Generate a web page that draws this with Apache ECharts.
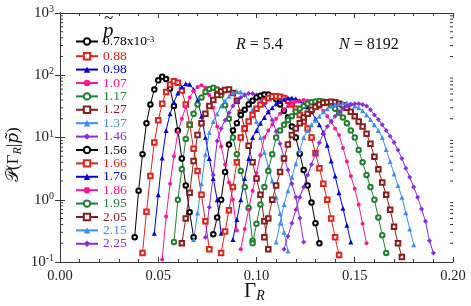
<!DOCTYPE html>
<html><head><meta charset="utf-8">
<script src="https://cdn.jsdelivr.net/npm/echarts@6/dist/echarts.min.js"></script>
<style>html,body{margin:0;padding:0;background:#fff}#c{width:471px;height:306px}</style>
</head><body><div id="c"></div>
<script>
// ---------- data ----------
const BIN = 0.002;
const P_LABELS = ['0.78','0.88','0.98','1.07','1.17','1.27','1.37','1.46','1.56','1.66','1.76','1.86','1.95','2.05','2.15','2.25'];
const X_TICKS = [0, 0.05, 0.10, 0.15, 0.20];
const STARTS = [0.038,0.042,0.048,0.052,0.058,0.062,0.068,0.074,0.078,0.082,0.088,0.092,0.098,0.104,0.110,0.114];
const Y_078 = [0.25,1.4,5.4,17,34,59,83,95,87,61,32,13,4.6,1.7,0.63,0.25];
const Y_088 = [0.14,0.64,2.4,8.3,19,35,54,71,80,76,57,34,16,6.6,2.9,1.2,0.45,0.16];
const Y_098 = [0.29,1.2,4.7,13,24,37,52,65,73,72,59,40,22,10,4.6,2.2,1.0,0.29];
const Y_107 = [0.11,0.54,1.8,5.0,12,20,31,44,56,65,69,63,48,30,15,7.2,3.7,1.9,1.0,0.32];
const Y_117 = [0.21,1.0,3.1,9.5,16,24,34,44,54,60,63,59,48,33,20,10,5.4,2.9,1.6,0.74,0.22];
const Y_127 = [0.2,0.5,1.3,4.2,11,17,24,32,40,48,55,58,59,52,39,25,14,7.4,4.0,2.2,1.2,0.45,0.16];
const Y_137 = [0.23,0.61,1.8,5.4,12,18,24,32,39,46,52,55,54,49,39,28,18,10,5.8,3.4,2.0,1.1,0.6,0.3,0.15];
const Y_146 = [0.25,0.76,2.5,8.8,14,19,25,32,38,44,48,51,51,48,42,34,26,19,12.5,7.9,4.8,3.0,1.8,1.1,0.51,0.21];
const Y_156 = [0.28,0.52,1.0,2.8,7.7,13,17,23,28,34,39,44,47,49,49,46,41,34,27,21,15,10,5.5,3.0,1.7,0.9,0.42,0.2];
const Y_166 = [0.14,0.31,0.68,1.6,4.0,10,14,18,23,29,34,39,43,45,46,45,43,39,34,29,23,18,14,10,5.6,3.2,1.8,1.0,0.5,0.25,0.13];
const Y_176 = [0.23,0.48,1.0,2.2,4.6,10,13,17,21,26,30,35,38,41,43,43,42,39,35,31,26,20,16,12,7.5,4.2,2.4,1.3,0.73,0.39,0.21];
const Y_186 = [0.16,0.34,0.7,1.4,2.7,5.2,10,13,16,20,24,28,32,35,38,39,40,39,37,35,31,27,22,18,14,11,6.8,4.1,2.4,1.5,0.84,0.41,0.2];
const Y_195 = [0.2,0.41,0.84,1.6,2.9,5.4,10,13,16,19,22,26,29,32,35,37,38,38.5,38,36,33,29,25,21,17,13,10,6.3,4.0,2.5,1.6,1.0,0.52,0.27,0.14];
const Y_205 = [0.25,0.5,1.0,1.7,2.8,4.6,7.7,11,14,17,21,24,28,31,34,36,37,37.5,37,35,33,30,26,22,18,15,11.5,7.9,4.9,3.1,1.9,1.2,0.69,0.37,0.2,0.12];
const Y_215 = [0.21,0.42,0.84,1.4,2.3,3.8,6.2,10,13,16,19,22,26,29,32,34,35,36,36,35,32,30,27,23,19.5,16,13,10,6.4,4.1,2.6,1.7,1.1,0.62,0.34,0.19];
const Y_225 = [0.16,0.26,0.42,0.69,1.1,1.6,2.5,3.7,5.5,8.2,11.5,15,18,22,26,29,32,34,35,35,34,32,28,23,19.5,16,13,10.5,8.3,6.3,4.6,3.2,2.3,1.6,1.1,0.71,0.45,0.22,0.14];
const VALUES = [Y_078,Y_088,Y_098,Y_107,Y_117,Y_127,Y_137,Y_146,Y_156,Y_166,Y_176,Y_186,Y_195,Y_205,Y_215,Y_225];

// ---------- styles ----------
const COLORS = ['#000000','#e3201c','#0000dd','#ff1493','#1f7f2e','#8b1c1c','#3a8cff','#8a2be2'];
const SYMS = ['emptyCircle','emptyRect','triangle','circle','emptyCircle','emptyRect','triangle','diamond'];
const SIZES = [4.5,4.5,5,4,4.5,4.5,5,5];
const SERIF = 'Liberation Serif';

const series = VALUES.map((vals, i) => ({
  type: 'line',
  name: P_LABELS[i],
  data: vals.map((v, k) => [+(STARTS[i] + k * BIN).toFixed(4), v]),
  symbol: SYMS[i % 8],
  symbolSize: SIZES[i % 8],
  showAllSymbol: true,
  color: COLORS[i % 8],
  lineStyle: { width: 1, color: COLORS[i % 8] },
  itemStyle: { color: COLORS[i % 8], borderWidth: 1 },
  emphasis: { disabled: true },
  z: 3
}));

// minor log ticks (drawn through the y scale)
const MINOR = [];
[-1, 0, 1, 2].forEach(n => { for (let m = 2; m <= 9; m++) MINOR.push([0, +(m * Math.pow(10, n)).toPrecision(3)]); });
series.push({
  type: 'custom', silent: true, z: 5,
  data: MINOR,
  renderItem: (params, api) => {
    const y = api.coord([0, api.value(1)])[1];
    const cs = params.coordSys;
    return { type: 'group', children: [
      { type: 'line', shape: { x1: cs.x, y1: y, x2: cs.x + 3, y2: y }, style: { stroke: '#333', lineWidth: 1 } },
      { type: 'line', shape: { x1: cs.x + cs.width - 3, y1: y, x2: cs.x + cs.width, y2: y }, style: { stroke: '#333', lineWidth: 1 } }
    ]};
  }
});

const axisLineStyle = { lineStyle: { color: '#333', width: 1 } };
const chart = echarts.init(document.getElementById('c'), null, { renderer: 'canvas' });
chart.setOption({
  animation: false,
  backgroundColor: '#fff',
  grid: { left: 60, right: 18, top: 13, bottom: 44 },
  xAxis: [
    { type: 'value', min: 0, max: 0.2, interval: 0.05, position: 'bottom',
      axisLine: axisLineStyle, axisTick: { inside: true, length: 5, lineStyle: { color: '#333' } },
      minorTick: { show: true, splitNumber: 5, length: 3, lineStyle: { color: '#333' } },
      splitLine: { show: false },
      axisLabel: { formatter: v => v.toFixed(2), fontFamily: SERIF, fontSize: 14.5, color: '#222', margin: 7 } },
    { type: 'value', min: 0, max: 0.2, interval: 0.05, position: 'top',
      axisLine: axisLineStyle, axisTick: { inside: true, length: 5, lineStyle: { color: '#333' } },
      minorTick: { show: true, splitNumber: 5, length: 3, lineStyle: { color: '#333' } },
      splitLine: { show: false }, axisLabel: { show: false } }
  ],
  yAxis: [
    { type: 'log', min: 0.1, max: 1000, logBase: 10, position: 'left',
      axisLine: axisLineStyle, axisTick: { inside: true, length: 5, lineStyle: { color: '#333' } },
      splitLine: { show: false },
      axisLabel: { margin: 6, fontFamily: SERIF, color: '#222',
        formatter: v => '{b|10}{s|' + Math.round(Math.log10(v)) + '}',
        rich: { b: { fontSize: 15, fontFamily: SERIF, color: '#222' },
                s: { fontSize: 10, fontFamily: SERIF, color: '#222', verticalAlign: 'top', padding: [0, 0, 7, 0] } } } },
    { type: 'log', min: 0.1, max: 1000, logBase: 10, position: 'right',
      axisLine: axisLineStyle, axisTick: { inside: true, length: 5, lineStyle: { color: '#333' } },
      splitLine: { show: false }, axisLabel: { show: false } }
  ],
  legend: {
    orient: 'vertical', left: 75, top: 34.5, padding: 0, itemWidth: 22, itemHeight: 8, itemGap: -0.6,
    selectedMode: false,
    textStyle: { fontFamily: SERIF, fontSize: 13.5, lineHeight: 13.45,
      rich: { s: { fontSize: 9, fontFamily: SERIF, lineHeight: 13.45, verticalAlign: 'top', padding: [0, 0, 6, 0] } } },
    formatter: n => n === '0.78' ? '0.78x10{s|-3}' : n,
    data: P_LABELS.map((n, i) => ({ name: n, textStyle: { color: COLORS[i % 8] } }))
  },
  graphic: [
    { type: 'text', left: 103, top: 21, style: { text: 'p', font: 'italic 21px "Liberation Serif"', fill: '#111' } },
    { type: 'text', left: 104, top: 10, style: { text: '~', font: '17px "Liberation Serif"', fill: '#111' } },
    { type: 'text', left: 236, top: 37, style: { rich: { i: { font: 'italic 16px "Liberation Serif"', fill: '#111' }, n: { font: '16px "Liberation Serif"', fill: '#111' } }, text: '{i|R}{n| = 5.4}' } },
    { type: 'text', left: 339, top: 37, style: { rich: { i: { font: 'italic 16px "Liberation Serif"', fill: '#111' }, n: { font: '16px "Liberation Serif"', fill: '#111' } }, text: '{i|N}{n| = 8192}' } },
    { type: 'text', left: 244, top: 281, style: { rich: { g: { font: '21px "Liberation Serif"', fill: '#111' }, r: { font: 'italic 14px "Liberation Serif"', fill: '#111', padding: [10, 0, 0, 0] } }, text: '{g|Γ}{r|R}' } },
    { type: 'text', x: 4, y: 182, rotation: Math.PI / 2,
      style: { rich: { a: { font: '17px "DejaVu Serif"', fill: '#111' }, b: { font: '17px "Liberation Serif"', fill: '#111' }, r: { font: 'italic 12px "Liberation Serif"', fill: '#111', padding: [8, 0, 0, 0] }, p: { font: 'italic 17px "DejaVu Serif"', fill: '#111' } },
        text: '{a|𝒫}{b|(Γ}{r|R}{b||}{p|p̃}{b|)}' } }
  ],
  series
});
</script></body></html>
